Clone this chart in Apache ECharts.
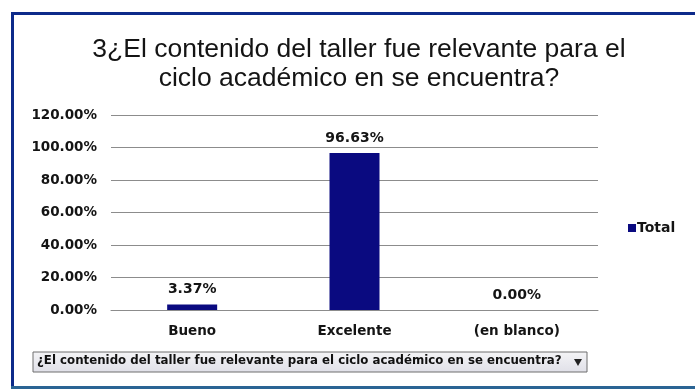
<!DOCTYPE html>
<html>
<head>
<meta charset="utf-8">
<script src="https://cdn.jsdelivr.net/npm/echarts@6/dist/echarts.min.js"></script>
<style>
  html, body { margin: 0; padding: 0; background: #ffffff; }
  #chart { width: 695px; height: 389px; }
</style>
</head>
<body>
<div id="chart"></div>
<script>
// Survey answers for question 3
const categories = ['Bueno', 'Excelente', '(en blanco)'];
const totalValues = [3.37, 96.63, 0.00];
const yTickLabels = ['0.00%', '20.00%', '40.00%', '60.00%', '80.00%', '100.00%', '120.00%'];
const seriesName = 'Total';
const titleText = '3¿El contenido del taller fue relevante para el\nciclo académico en se encuentra?';
const filterText = '¿El contenido del taller fue relevante para el ciclo académico en se encuentra?';

const labelFont = 'DejaVu Sans, Verdana, sans-serif';

const chart = echarts.init(document.getElementById('chart'));

const option = {
  backgroundColor: '#ffffff',
  animation: false,
  title: {
    text: titleText,
    left: 354,
    top: 30,
    textAlign: 'center',
    textStyle: {
      fontFamily: 'Liberation Sans, Arial, sans-serif',
      fontSize: 26.5,
      fontWeight: 'normal',
      color: '#141414',
      lineHeight: 29
    }
  },
  legend: {
    data: [seriesName],
    orient: 'vertical',
    left: 623,
    top: 216,
    itemWidth: 8,
    itemHeight: 8,
    icon: 'rect',
    textStyle: {
      fontFamily: labelFont,
      fontSize: 14,
      fontWeight: 'bold',
      color: '#141414',
      padding: [0, 0, 0, -4]
    }
  },
  grid: {
    left: 111,
    right: 97,
    top: 115,
    bottom: 79,
    containLabel: false
  },
  xAxis: {
    type: 'category',
    data: categories,
    axisLine: { show: true, lineStyle: { color: '#8c8c8c', width: 1 } },
    axisTick: { show: false },
    axisLabel: {
      margin: 14,
      fontFamily: labelFont,
      fontSize: 13.5,
      fontWeight: 'bold',
      color: '#141414'
    }
  },
  yAxis: {
    type: 'value',
    min: 0,
    max: 120,
    interval: 20,
    axisLine: { show: false },
    axisTick: { show: false },
    splitLine: { lineStyle: { color: '#8c8c8c', width: 1 } },
    axisLabel: {
      margin: 14,
      fontFamily: labelFont,
      fontSize: 13.5,
      fontWeight: 'bold',
      color: '#141414',
      formatter: (v) => yTickLabels[Math.round(v / 20)]
    }
  },
  series: [{
    name: seriesName,
    type: 'bar',
    data: totalValues,
    barWidth: 50,
    itemStyle: { color: '#0a0a80' },
    label: {
      show: true,
      position: 'top',
      distance: 8,
      fontFamily: labelFont,
      fontSize: 14,
      fontWeight: 'bold',
      color: '#141414',
      formatter: (p) => p.value.toFixed(2) + '%'
    }
  }],
  graphic: [
    // frame: dark blue left and top edges, steel blue bottom edge
    { type: 'rect', shape: { x: 11, y: 12, width: 3, height: 375 }, style: { fill: '#0d2a8a' }, silent: true },
    { type: 'rect', shape: { x: 11, y: 12, width: 684, height: 3 }, style: { fill: '#0d2a8a' }, silent: true },
    { type: 'rect', shape: { x: 11, y: 386, width: 684, height: 3 }, style: { fill: '#2a6494' }, silent: true },
    // report filter dropdown
    {
      type: 'rect',
      shape: { x: 33, y: 352, width: 554, height: 20 },
      style: {
        fill: new echarts.graphic.LinearGradient(0, 0, 0, 1, [
          { offset: 0, color: '#f4f4f6' },
          { offset: 1, color: '#e0e0e8' }
        ]),
        stroke: '#6f6f6f',
        lineWidth: 1
      },
      silent: true
    },
    {
      type: 'text',
      left: 37,
      top: 355,
      style: {
        text: filterText,
        fontFamily: labelFont,
        fontSize: 11.8,
        fontWeight: 'bold',
        fill: '#111111'
      },
      silent: true
    },
    {
      type: 'polygon',
      shape: { points: [[574, 359], [582, 359], [578, 366]] },
      style: { fill: '#222222' },
      silent: true
    }
  ]
};

chart.setOption(option);
</script>
</body>
</html>
